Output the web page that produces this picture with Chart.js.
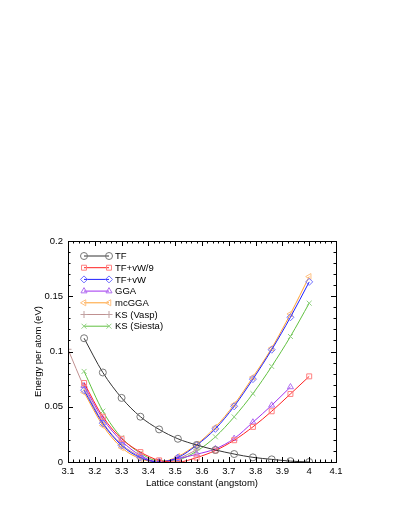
<!DOCTYPE html>
<html>
<head>
<meta charset="utf-8">
<script src="https://cdn.jsdelivr.net/npm/chart.js@4"></script>
<style>
  html, body { margin: 0; padding: 0; background: #fff; }
  #energyChart { display: block; }
</style>
</head>
<body>
<canvas id="energyChart" width="403" height="522"></canvas>
<script>
// lattice constants (angstom)
var latticeX = [3.16, 3.23, 3.30, 3.37, 3.44, 3.51, 3.58, 3.65, 3.72, 3.79, 3.86, 3.93, 4.00];
var ggaX = [3.16, 3.23, 3.30, 3.37, 3.44, 3.51, 3.58, 3.65, 3.72, 3.79, 3.86, 3.93];
var vaspX = [3.10, 3.16, 3.23, 3.30, 3.37, 3.44, 3.51, 3.58];

// energy per atom (eV)
var tf       = [0.112, 0.081, 0.058, 0.041, 0.0295, 0.021, 0.0154, 0.0109, 0.0072, 0.0042, 0.0024, 0.0008, 0.0];
var tfVw9    = [0.0715, 0.041, 0.021, 0.009, 0.0015, 0.0, 0.004, 0.0104, 0.0197, 0.0318, 0.0459, 0.0616, 0.0775];
var tfVw     = [0.065, 0.035, 0.015, 0.004, 0.0, 0.004, 0.0152, 0.030, 0.0504, 0.075, 0.1016, 0.131, 0.163];
var gga      = [0.069, 0.039, 0.019, 0.006, 0.0, 0.003, 0.007, 0.0119, 0.0212, 0.036, 0.0513, 0.0679];
var mcgga    = [0.063, 0.033, 0.013, 0.003, 0.0, 0.005, 0.016, 0.0315, 0.052, 0.0768, 0.103, 0.134, 0.1678];
var ksVasp   = [0.102, 0.068, 0.036, 0.016, 0.005, 0.0, 0.003, 0.011];
var ksSiesta = [0.082, 0.046, 0.022, 0.008, 0.001, 0.002, 0.0098, 0.0228, 0.0408, 0.0619, 0.0865, 0.1136, 0.1437];

var xTicks = [3.1, 3.2, 3.3, 3.4, 3.5, 3.6, 3.7, 3.8, 3.9, 4.0, 4.1];
var yTicks = [0, 0.05, 0.1, 0.15, 0.2];

function pts(xs, ys) {
    return ys.map(function (y, i) { return { x: xs[i], y: y }; });
}

function series(label, xs, ys, line, mark, style, rot) {
    return {
        label: label,
        data: pts(xs, ys),
        borderColor: line,
        borderWidth: 1,
        pointStyle: style,
        rotation: rot || 0,
        pointRadius: 3.5,
        pointBorderWidth: 1,
        pointBorderColor: mark,
        pointBackgroundColor: 'rgba(0,0,0,0)',
        cubicInterpolationMode: 'monotone',
        fill: false
    };
}

var font = { family: 'Liberation Sans, Arial, sans-serif', size: 9.5 };

// gnuplot style frame: ticks inward on all four sides + key with two markers
var framePlugin = {
    id: 'frame',
    afterDatasetsDraw: function (chart) {
        var ctx = chart.ctx, a = chart.chartArea;
        var xs = chart.scales.x, ys = chart.scales.y;
        ctx.save();
        ctx.strokeStyle = '#000';
        ctx.lineWidth = 1;
        ctx.beginPath();
        for (var i = 0; i <= 50; i++) {
            var v = 3.1 + i * 0.02;
            var px = Math.round(xs.getPixelForValue(v)) + 0.5;
            var len = (i % 5 === 0) ? 5 : 2.5;
            ctx.moveTo(px, a.bottom); ctx.lineTo(px, a.bottom - len);
            ctx.moveTo(px, a.top); ctx.lineTo(px, a.top + len);
        }
        for (var j = 0; j <= 20; j++) {
            var py = Math.round(ys.getPixelForValue(j * 0.01)) + 0.5;
            var l2 = (j % 5 === 0) ? 5 : 2.5;
            ctx.moveTo(a.left, py); ctx.lineTo(a.left + l2, py);
            ctx.moveTo(a.right, py); ctx.lineTo(a.right - l2, py);
        }
        ctx.stroke();
        ctx.strokeRect(Math.round(a.left) + 0.5, Math.round(a.top) + 0.5,
            Math.round(a.right - a.left), Math.round(a.bottom - a.top));

        // key
        ctx.font = font.size + 'px ' + font.family;
        ctx.textBaseline = 'middle';
        ctx.textAlign = 'left';
        chart.data.datasets.forEach(function (ds, k) {
            var y = 256 + k * 11.7;
            ctx.strokeStyle = ds.borderColor;
            ctx.beginPath();
            ctx.moveTo(84, y); ctx.lineTo(109, y);
            ctx.stroke();
            var opts = { pointStyle: ds.pointStyle, rotation: ds.rotation, radius: 3.5, borderWidth: 1 };
            ctx.strokeStyle = ds.pointBorderColor;
            ctx.fillStyle = 'rgba(0,0,0,0)';
            Chart.helpers.drawPoint(ctx, opts, 84, y);
            Chart.helpers.drawPoint(ctx, opts, 109, y);
            ctx.fillStyle = '#000';
            ctx.fillText(ds.label, 115, y + 0.5);
        });
        ctx.restore();
    }
};

var ctx = document.getElementById('energyChart');
var energyChart = new Chart(ctx, {
    type: 'line',
    data: {
        datasets: [
            series('TF', latticeX, tf, '#333333', '#777777', 'circle'),
            series('TF+vW/9', latticeX, tfVw9, '#ff2020', '#ff8080', 'rect'),
            series('TF+vW', latticeX, tfVw, '#2020ff', '#7070ff', 'rectRot'),
            series('GGA', ggaX, gga, '#a030f0', '#b070f0', 'triangle'),
            series('mcGGA', latticeX, mcgga, '#ffa030', '#ffc080', 'triangle', -90),
            series('KS (Vasp)', vaspX, ksVasp, '#c09090', '#c0a0a0', 'cross'),
            series('KS (Siesta)', latticeX, ksSiesta, '#60c040', '#90d080', 'crossRot')
        ]
    },
    plugins: [framePlugin],
    options: {
        responsive: false,
        animation: false,
        events: [],
        layout: { padding: { top: 241, right: 67, left: 0, bottom: 0 } },
        plugins: {
            legend: { display: false },
            tooltip: { enabled: false }
        },
        scales: {
            x: {
                type: 'linear',
                min: 3.1,
                max: 4.1,
                afterFit: function (s) { s.height = 60; },
                afterBuildTicks: function (s) { s.ticks = xTicks.map(function (v) { return { value: v }; }); },
                grid: { display: false, drawTicks: false },
                border: { display: false },
                ticks: {
                    color: '#000',
                    font: font,
                    padding: 4,
                    maxRotation: 0,
                    callback: function (v) { return String(Number(v.toFixed(2))); }
                },
                title: {
                    display: true,
                    text: 'Lattice constant (angstom)',
                    color: '#000',
                    font: font,
                    padding: { top: 0, bottom: 33 }
                }
            },
            y: {
                type: 'linear',
                min: 0,
                max: 0.2,
                afterFit: function (s) { s.width = 68; },
                afterBuildTicks: function (s) { s.ticks = yTicks.map(function (v) { return { value: v }; }); },
                grid: { display: false, drawTicks: false },
                border: { display: false },
                ticks: {
                    color: '#000',
                    font: font,
                    padding: 5,
                    callback: function (v) { return String(Number(v.toFixed(2))); }
                },
                title: {
                    display: true,
                    text: 'Energy per atom (eV)',
                    color: '#000',
                    font: font,
                    padding: { top: 33, bottom: 0 }
                }
            }
        }
    }
});
</script>
</body>
</html>
